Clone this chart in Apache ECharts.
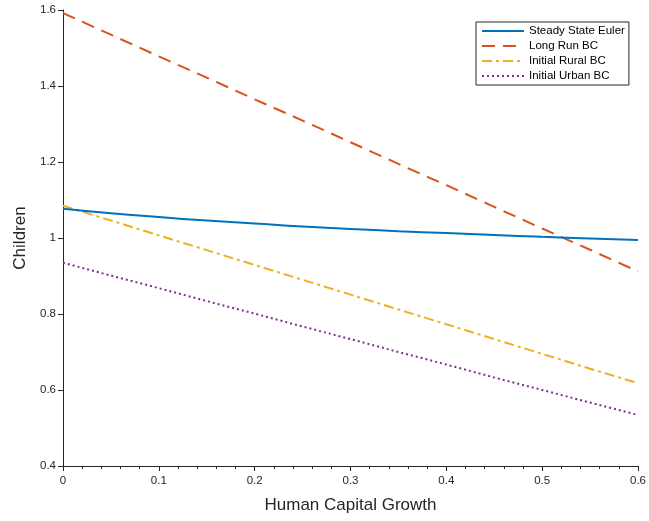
<!DOCTYPE html>
<html><head><meta charset="utf-8">
<script src="https://cdn.jsdelivr.net/npm/echarts@6/dist/echarts.min.js"></script>
<style>html,body{margin:0;padding:0;background:#fff}#c{width:649px;height:521px}</style>
</head><body><div id="c"></div>
<script>
const xValues = [0, 0.05, 0.1, 0.15, 0.2, 0.25, 0.3, 0.35, 0.4, 0.45, 0.5, 0.55, 0.6];
const steadyStateEuler = [1.077, 1.065, 1.055, 1.046, 1.038, 1.030, 1.024, 1.018, 1.013, 1.008, 1.003, 0.999, 0.995];
const longRunBC = [1.592, 1.535, 1.478, 1.422, 1.365, 1.309, 1.252, 1.195, 1.139, 1.082, 1.025, 0.969, 0.912];
const initialRuralBC = [1.085, 1.046, 1.007, 0.968, 0.929, 0.890, 0.851, 0.812, 0.773, 0.734, 0.695, 0.656, 0.618];
const initialUrbanBC = [0.935, 0.901, 0.868, 0.834, 0.801, 0.767, 0.734, 0.700, 0.667, 0.633, 0.600, 0.567, 0.534];
const seriesNames = ['Steady State Euler', 'Long Run BC', 'Initial Rural BC', 'Initial Urban BC'];
const xTicks = [0, 0.1, 0.2, 0.3, 0.4, 0.5, 0.6];
const yTicks = [0.4, 0.6, 0.8, 1, 1.2, 1.4, 1.6];

const font = 'Liberation Sans, Arial, Helvetica, sans-serif';
const axisCol = '#262626';
const chart = echarts.init(document.getElementById('c'), null, {renderer: 'canvas'});
function pts(arr){ return xValues.map((x,i)=>[x, arr[i]]); }
const styles = [
  {color:'#0072BD', type:'solid', smooth:true},
  {color:'#D95319', type:[13,8], smooth:false},
  {color:'#EDB120', type:[10,4,3,4], smooth:false},
  {color:'#7E2F8E', type:[2,3], smooth:false}
];
const data = [steadyStateEuler, longRunBC, initialRuralBC, initialUrbanBC];
chart.setOption({
  animation: false,
  backgroundColor: '#fff',
  grid: {left: 63, right: 8, top: 10, bottom: 55, containLabel: false},
  legend: {
    orient: 'vertical', left: 476, top: 22,
    backgroundColor: '#fff', borderColor: axisCol, borderWidth: 1,
    padding: [3, 4, 3, 5], itemGap: 3, itemWidth: 42, itemHeight: 11,
    itemStyle: {opacity: 0},
    lineStyle: {width: 2},
    textStyle: {fontFamily: font, fontSize: 11.5, color: '#000'},
    data: seriesNames
  },
  xAxis: {
    type: 'value', min: 0, max: 0.6, interval: 0.1,
    name: 'Human Capital Growth', nameLocation: 'middle', nameGap: 31,
    nameTextStyle: {fontFamily: font, fontSize: 17, color: axisCol},
    axisLine: {show: true, onZero: false, lineStyle: {color: axisCol, width: 1}},
    axisTick: {show: true, inside: false, length: 5, lineStyle: {color: axisCol}},
    minorTick: {show: true, splitNumber: 5, length: 3, lineStyle: {color: axisCol}},
    axisLabel: {fontFamily: font, fontSize: 11.5, color: axisCol, margin: 9,
      formatter: v => (xTicks.indexOf(Math.round(v*10)/10) >= 0 ? String(Math.round(v*10)/10) : '')},
    splitLine: {show: false}
  },
  yAxis: {
    type: 'value', min: 0.4, max: 1.6, interval: 0.2,
    name: 'Children', nameLocation: 'middle', nameGap: 34,
    nameTextStyle: {fontFamily: font, fontSize: 17, color: axisCol},
    axisLine: {show: true, lineStyle: {color: axisCol, width: 1}},
    axisTick: {show: true, inside: false, length: 5, lineStyle: {color: axisCol}},
    axisLabel: {fontFamily: font, fontSize: 11.5, color: axisCol, margin: 7,
      formatter: v => { const r = Math.round(v*10)/10; return yTicks.indexOf(r) >= 0 ? String(r) : ''; }},
    splitLine: {show: false}
  },
  series: seriesNames.map((n,i)=>({
    name: n, type: 'line', data: pts(data[i]), symbol: 'none', smooth: styles[i].smooth,
    color: styles[i].color,
    lineStyle: {color: styles[i].color, width: 2, type: styles[i].type, cap: 'butt'},
    z: 4 - i
  }))
});
</script></body></html>
